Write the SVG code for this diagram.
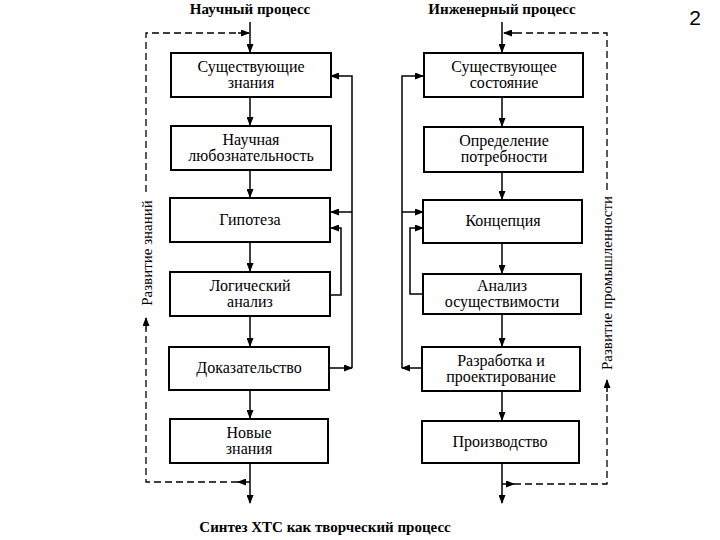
<svg xmlns="http://www.w3.org/2000/svg" width="720" height="540" viewBox="0 0 720 540">
<style>
.box{fill:#fff;stroke:#000;stroke-width:2}
.t{font-family:"Liberation Serif","Times New Roman",serif;font-size:16px;fill:#000;text-anchor:middle}
.s{font-family:"Liberation Serif","Times New Roman",serif;font-size:15px;fill:#000;text-anchor:middle}
.h{font-family:"Liberation Serif","Times New Roman",serif;font-size:15px;font-weight:bold;fill:#000;text-anchor:middle}
.ln{fill:none;stroke:#000;stroke-width:1.5}
.ds{fill:none;stroke:#000;stroke-width:1.3;stroke-dasharray:7 4}
</style>
<defs>
<marker id="a" markerUnits="userSpaceOnUse" markerWidth="9" markerHeight="7" refX="8" refY="3.5" orient="auto">
<path d="M0,0 L9,3.5 L0,7 Z" fill="#000"/>
</marker>
</defs>
<rect width="720" height="540" fill="#fff"/>
<text class="h" x="250" y="14">Научный процесс</text>
<text class="h" x="502" y="14">Инженерный процесс</text>
<text x="695" y="25" font-family="Liberation Sans, Arial, sans-serif" font-size="21" text-anchor="middle">2</text>

<g id="connectors">
<path class="ln" d="M250,22 V52" marker-end="url(#a)"/>
<path class="ln" d="M250,97 V125" marker-end="url(#a)"/>
<path class="ln" d="M250,170 V197" marker-end="url(#a)"/>
<path class="ln" d="M250,242 V271" marker-end="url(#a)"/>
<path class="ln" d="M250,316 V346" marker-end="url(#a)"/>
<path class="ln" d="M250,390 V418" marker-end="url(#a)"/>
<path class="ln" d="M250,463 V503" marker-end="url(#a)"/>
<path class="ln" d="M330,368 H352" marker-end="url(#a)"/>
<path class="ln" d="M352,368 V76 H331" marker-end="url(#a)"/>
<path class="ln" d="M352,212 H331" marker-end="url(#a)"/>
<path class="ln" d="M330,295 H341 V228 H331" marker-end="url(#a)"/>
<path class="ln" d="M250,482 H238" marker-end="url(#a)"/>
<path class="ds" d="M238,482 H146 V330"/>
<path class="ln" d="M146,330 V318" marker-end="url(#a)"/>
<path class="ds" d="M146,192 V33 H238"/>
<path class="ln" d="M238,33 H249" marker-end="url(#a)"/>

<path class="ln" d="M502,22 V52" marker-end="url(#a)"/>
<path class="ln" d="M502,97 V126" marker-end="url(#a)"/>
<path class="ln" d="M502,172 V199" marker-end="url(#a)"/>
<path class="ln" d="M502,243 V273" marker-end="url(#a)"/>
<path class="ln" d="M502,314 V346" marker-end="url(#a)"/>
<path class="ln" d="M502,391 V420" marker-end="url(#a)"/>
<path class="ln" d="M502,463 V503" marker-end="url(#a)"/>
<path class="ln" d="M423,368 H402" marker-end="url(#a)"/>
<path class="ln" d="M402,368 V76 H423" marker-end="url(#a)"/>
<path class="ln" d="M402,212 H423" marker-end="url(#a)"/>
<path class="ln" d="M423,294 H410 V228 H423" marker-end="url(#a)"/>
<path class="ln" d="M502,484 H514" marker-end="url(#a)"/>
<path class="ds" d="M514,484 H607 V392"/>
<path class="ln" d="M607,392 V380" marker-end="url(#a)"/>
<path class="ds" d="M607,190 V33 H516"/>
<path class="ln" d="M516,33 H504" marker-end="url(#a)"/>
</g>

<text class="s" transform="translate(152,253) rotate(-90)">Развитие знаний</text>
<text class="s" transform="translate(612,283) rotate(-90)">Развитие промышленности</text>

<g id="n1"><rect class="box" x="171" y="53" width="160" height="44"/><text class="t" x="251" y="72">Существующие</text><text class="t" x="251" y="88">знания</text></g>
<g id="n2"><rect class="box" x="171" y="126" width="160" height="44"/><text class="t" x="251" y="145">Научная</text><text class="t" x="251" y="161">любознательность</text></g>
<g id="n3"><rect class="box" x="170" y="198" width="160" height="44"/><text class="t" x="250" y="225">Гипотеза</text></g>
<g id="n4"><rect class="box" x="170" y="272" width="160" height="44"/><text class="t" x="250" y="291">Логический</text><text class="t" x="250" y="307">анализ</text></g>
<g id="n5"><rect class="box" x="169" y="347" width="160" height="43"/><text class="t" x="249" y="373">Доказательство</text></g>
<g id="n6"><rect class="box" x="170" y="419" width="158" height="44"/><text class="t" x="249" y="438">Новые</text><text class="t" x="249" y="454">знания</text></g>

<g id="m1"><rect class="box" x="424" y="53" width="159" height="44"/><text class="t" x="504" y="72">Существующее</text><text class="t" x="504" y="88">состояние</text></g>
<g id="m2"><rect class="box" x="424" y="127" width="159" height="45"/><text class="t" x="504" y="146">Определение</text><text class="t" x="504" y="162">потребности</text></g>
<g id="m3"><rect class="box" x="423" y="200" width="159" height="43"/><text class="t" x="503" y="226">Концепция</text></g>
<g id="m4"><rect class="box" x="423" y="274" width="158" height="40"/><text class="t" x="502" y="291">Анализ</text><text class="t" x="502" y="307">осуществимости</text></g>
<g id="m5"><rect class="box" x="422" y="347" width="158" height="44"/><text class="t" x="501" y="366">Разработка и</text><text class="t" x="501" y="382">проектирование</text></g>
<g id="m6"><rect class="box" x="422" y="421" width="157" height="42"/><text class="t" x="500" y="447">Производство</text></g>

<text class="h" x="325" y="532">Синтез ХТС как творческий процесс</text>
</svg>
